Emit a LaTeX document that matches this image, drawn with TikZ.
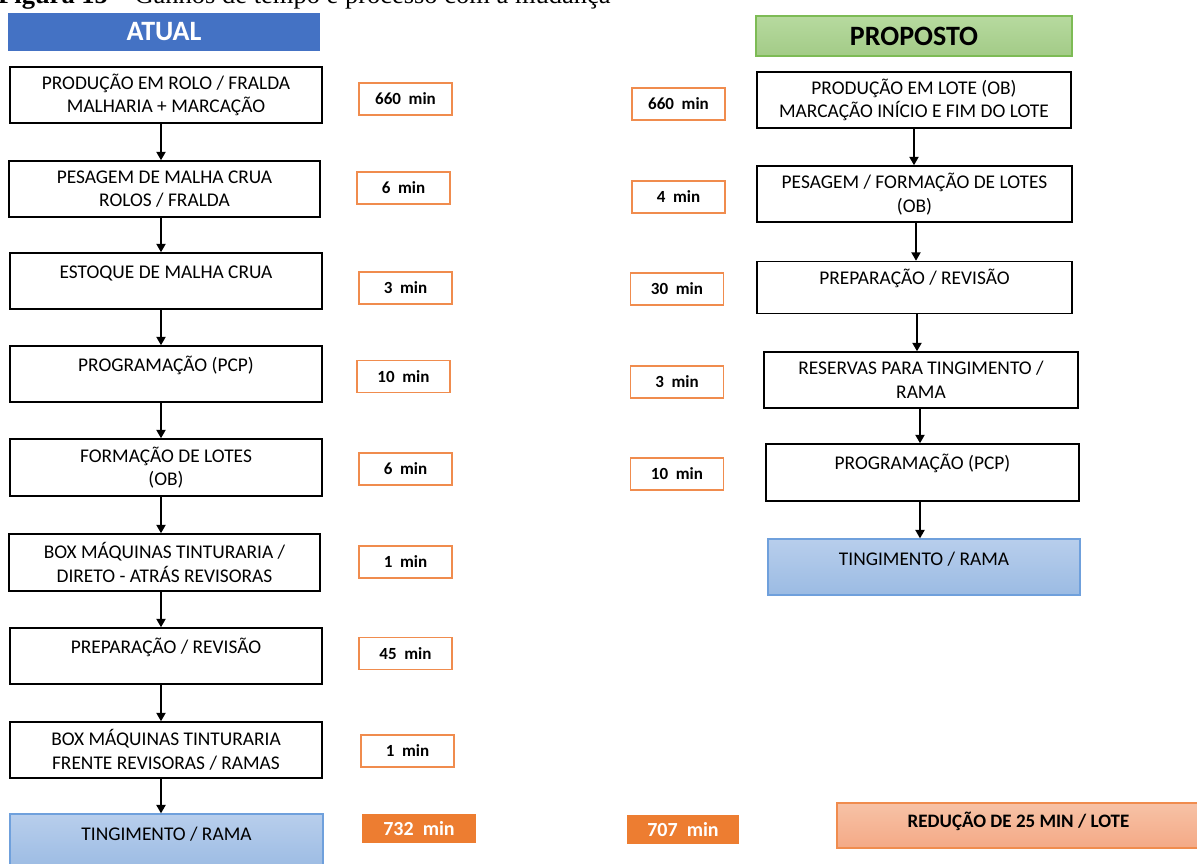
\documentclass[tikz,border=0pt]{standalone}
\usepackage{fontspec}
\setmainfont{Carlito}
\newfontfamily\capfont{Liberation Serif}
\usetikzlibrary{arrows.meta}
\definecolor{hdrblue}{HTML}{4472C4}
\definecolor{tborder}{HTML}{F08C4E}
\definecolor{totorange}{HTML}{ED7D31}
\definecolor{fintop}{HTML}{B8CEEC}
\definecolor{finbot}{HTML}{9BBBE3}
\definecolor{finborder}{HTML}{6FA0DC}
\definecolor{grtop}{HTML}{B7DA9F}
\definecolor{grbot}{HTML}{A3CB87}
\definecolor{grborder}{HTML}{7DBB55}
\definecolor{redtop}{HTML}{F7C2A6}
\definecolor{redbot}{HTML}{F4A986}
\begin{document}
\begin{tikzpicture}[x=1pt,y=-1pt,
  proc/.style={draw=black, line width=1.4pt, fill=white, minimum width=312pt, minimum height=56pt,
    inner sep=0pt, align=center, font=\fontsize{19.4}{23.5}\selectfont},
  topline/.style={text height=13pt, text depth=19pt},
  fin/.style={draw=finborder, line width=1.2pt, top color=fintop, bottom color=finbot,
    minimum width=312pt, minimum height=56pt, inner sep=0pt, align=center,
    text height=13pt, text depth=16pt, font=\fontsize{19.4}{23.5}\selectfont},
  tbox/.style={draw=tborder, line width=1.3pt, fill=white, minimum width=93pt, minimum height=32pt,
    inner sep=0pt, font=\bfseries\fontsize{17}{20}\selectfont},
  tot/.style={fill=totorange, text=white, minimum height=29pt, inner sep=0pt,
    font=\bfseries\fontsize{20}{24}\selectfont},
  arr/.style={line width=2.1pt, -{Triangle[length=8.5pt,width=9pt]}},
  hdr/.style={minimum height=38pt, inner sep=0pt, font=\bfseries\fontsize{28}{32}\selectfont}
]
\clip (0,0) rectangle (1197,864);

% caption (cut off at top)
\node[anchor=base west, inner sep=0pt, font=\capfont\fontsize{26.5}{30}\selectfont] (cap) at (-2,4)
  {\textbf{Figura 15 –} Ganhos de tempo e processo com a mudança};

% headers
\node[hdr, fill=hdrblue, text=white, minimum width=312pt] (hA) at (164,32) {ATUAL};
\node[hdr, draw=grborder, line width=1.2pt, top color=grtop, bottom color=grbot,
  minimum width=316pt, minimum height=40pt] (hP) at (914,36) {PROPOSTO};

% left column
\node[proc] (b1) at (166,95) {PRODUÇÃO EM ROLO / FRALDA\\MALHARIA + MARCAÇÃO};
\node[proc, minimum width=311pt] (b2) at (164.5,189) {PESAGEM DE MALHA CRUA\\ROLOS / FRALDA};
\node[proc, topline] (b3) at (166,281) {ESTOQUE DE MALHA CRUA};
\node[proc, topline] (b4) at (166,374) {PROGRAMAÇÃO (PCP)};
\node[proc, minimum height=57pt] (b5) at (166,467.5) {FORMAÇÃO DE LOTES\\(OB)};
\node[proc, minimum width=311pt, minimum height=57pt] (b6) at (164.5,562.5) {BOX MÁQUINAS TINTURARIA /\\DIRETO - ATRÁS REVISORAS};
\node[proc, topline] (b7) at (166,656) {PREPARAÇÃO / REVISÃO};
\node[proc] (b8) at (166,750) {BOX MÁQUINAS TINTURARIA\\FRENTE REVISORAS / RAMAS};
\node[fin, minimum width=313pt] (bT) at (166.5,842) {TINGIMENTO / RAMA};

\coordinate (ax) at (161,0);
\foreach \a/\b in {b1/b2,b2/b3,b3/b4,b4/b5,b5/b6,b6/b7,b7/b8,b8/bT}
  \draw[arr] (\a.south -| ax) -- (\b.north -| ax);

% left times
\node[tbox] (t1) at (405.5,99) {660\ \ min};
\node[tbox] (t2) at (403.5,188) {6\ \ min};
\node[tbox] (t3) at (405.5,288) {3\ \ min};
\node[tbox] (t4) at (403.5,376.5) {10\ \ min};
\node[tbox] (t5) at (405.5,469) {6\ \ min};
\node[tbox] (t6) at (405.5,562) {1\ \ min};
\node[tbox] (t7) at (405.5,653.5) {45\ \ min};
\node[tbox] (t8) at (407.5,751) {1\ \ min};
\node[tot, minimum width=114pt] (tl) at (419,828.5) {732\ \ min};

% right column
\node[proc, minimum width=314pt] (r1) at (914,100) {PRODUÇÃO EM LOTE (OB)\\MARCAÇÃO INÍCIO E FIM DO LOTE};
\node[proc, minimum width=315pt] (r2) at (914.5,194) {PESAGEM / FORMAÇÃO DE LOTES\\(OB)};
\node[proc, topline, minimum width=315pt, minimum height=52pt] (r3) at (914.5,287.5) {PREPARAÇÃO / REVISÃO};
\node[proc, minimum width=314pt] (r4) at (921,380) {RESERVAS PARA TINGIMENTO /\\RAMA};
\node[proc, topline, minimum width=313pt, minimum height=57pt] (r5) at (922.5,472.5) {PROGRAMAÇÃO (PCP)};
\node[fin] (rT) at (924,567) {TINGIMENTO / RAMA};

\coordinate (rx1) at (914,0);
\coordinate (rx2) at (916,0);
\coordinate (rx3) at (917,0);
\coordinate (rx4) at (920,0);
\draw[arr] (r1.south -| rx1) -- (r2.north -| rx1);
\draw[arr] (r2.south -| rx2) -- (r3.north -| rx2);
\draw[arr] (r3.south -| rx3) -- (r4.north -| rx3);
\draw[arr] (r4.south -| rx4) -- (r5.north -| rx4);
\draw[arr] (r5.south -| rx4) -- (rT.north -| rx4);

% right times
\node[tbox] (u1) at (678.5,104) {660\ \ min};
\node[tbox] (u2) at (678.5,197) {4\ \ min};
\node[tbox] (u3) at (677,289) {30\ \ min};
\node[tbox] (u4) at (677,382) {3\ \ min};
\node[tbox] (u5) at (677,474) {10\ \ min};
\node[tot, minimum width=112pt] (tr) at (683,829.5) {707\ \ min};

% reduction
\node[draw=tborder, line width=1.3pt, top color=redtop, bottom color=redbot,
  minimum width=363pt, minimum height=45pt, inner sep=0pt, text height=14pt, text depth=10pt,
  font=\bfseries\fontsize{19}{23}\selectfont] (rd) at (1018.5,825.5) {REDUÇÃO DE 25 MIN / LOTE};
\end{tikzpicture}
\end{document}
